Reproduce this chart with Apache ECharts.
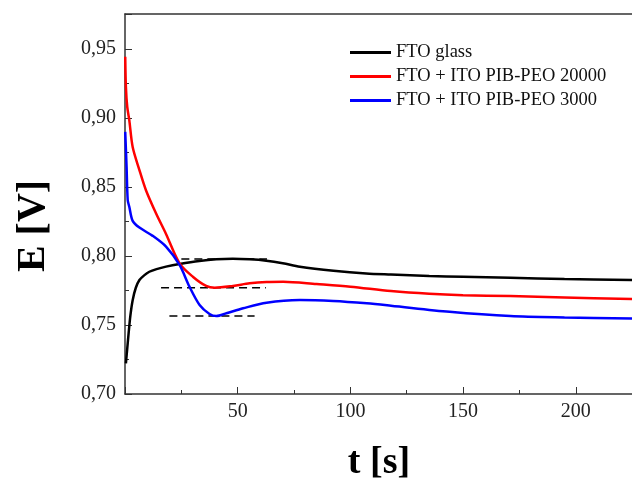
<!DOCTYPE html>
<html>
<head>
<meta charset="utf-8">
<script src="https://cdn.jsdelivr.net/npm/echarts@6/dist/echarts.min.js"></script>
<style>
  html, body { margin: 0; padding: 0; background: #fff; }
  #grafico { width: 632px; height: 481px; }
</style>
</head>
<body>
<div id="grafico"></div>
<script>
// Curvas de potencial E [V] em função do tempo t [s]
const nomesSeries = ['FTO glass', 'FTO + ITO PIB-PEO 20000', 'FTO + ITO PIB-PEO 3000'];
const coresSeries = ['#000000', '#ff0000', '#0000ff'];

const ftoT = [0.4, 1.0, 1.6, 2.4, 3.4, 4.8, 6.4, 8.5, 10.8, 14, 18.2, 24.2, 33, 40.5, 47.8, 55.3, 62.7, 70, 77.6, 92.5, 107, 118, 135, 150, 171, 195, 225];
const ftoE = [0.7222, 0.733, 0.744, 0.757, 0.768, 0.777, 0.7826, 0.786, 0.7886, 0.7905, 0.7923, 0.7942, 0.7964, 0.7976, 0.798, 0.7976, 0.7966, 0.7948, 0.7923, 0.7894, 0.7874, 0.7866, 0.7855, 0.7849, 0.7842, 0.7834, 0.7826];

const pib20T = [0.1, 0.4, 1.0, 1.9, 3.4, 6.4, 9.3, 13.8, 18.2, 24.2, 30.1, 36, 39.8, 47.9, 55.3, 62.8, 70.2, 85, 100, 118, 135, 150, 171, 195, 225];
const pib20E = [0.9444, 0.9227, 0.908, 0.8985, 0.879, 0.8623, 0.8477, 0.8308, 0.8160, 0.7947, 0.785, 0.7783, 0.777, 0.7783, 0.7802, 0.7812, 0.7814, 0.7797, 0.7778, 0.7746, 0.7726, 0.7716, 0.771, 0.770, 0.7688];

const pib3T = [0.1, 0.7, 1.2, 1.9, 3.4, 6.4, 12.3, 18.2, 24.2, 28.6, 33.1, 37.5, 40.5, 45, 52.4, 62.8, 77.6, 92.4, 107.3, 118, 144, 171, 195, 225];
const pib3E = [0.890, 0.8647, 0.8406, 0.8357, 0.8255, 0.8206, 0.8146, 0.8068, 0.7935, 0.7778, 0.7645, 0.758, 0.7565, 0.7585, 0.7621, 0.7662, 0.7681, 0.7674, 0.7657, 0.764, 0.7596, 0.7565, 0.7555, 0.7548];

// Linhas tracejadas de referência: [t inicial, t final, E]
const tracejadoT0 = [25, 16, 19.7];
const tracejadoT1 = [63, 62.5, 57.5];
const tracejadoE = [0.7978, 0.777, 0.7565];

const fonte = 'Liberation Serif, Times New Roman, serif';

function pares(t, e) {
    return t.map(function(v, i) { return [v, e[i]]; });
}

const chart = echarts.init(document.getElementById('grafico'));

const seriesCurvas = [pares(ftoT, ftoE), pares(pib20T, pib20E), pares(pib3T, pib3E)].map(function(dados, i) {
    return {
        name: nomesSeries[i],
        type: 'line',
        data: dados,
        smooth: 0.3,
        showSymbol: false,
        symbol: 'none',
        lineStyle: { color: coresSeries[i], width: 2.5 },
        itemStyle: { color: coresSeries[i] },
        z: 3
    };
});

const seriesTracejadas = tracejadoE.map(function(e, i) {
    return {
        name: 'ref' + i,
        type: 'line',
        data: [[tracejadoT0[i], e], [tracejadoT1[i], e]],
        showSymbol: false,
        symbol: 'none',
        lineStyle: { color: '#000', width: 1.5, type: [8, 5] },
        silent: true,
        z: 2
    };
});

const option = {
    backgroundColor: '#fff',
    animation: false,
    grid: { left: 125, right: -1, top: 14, bottom: 87, outerBoundsMode: 'none', containLabel: false },
    legend: {
        data: nomesSeries,
        orient: 'vertical',
        left: 345,
        top: 38,
        icon: 'rect',
        itemWidth: 41,
        itemHeight: 3,
        itemGap: 5,
        textStyle: { fontFamily: fonte, fontSize: 18.5, color: '#111' }
    },
    xAxis: [{
        type: 'value',
        min: 0,
        max: 225.4,
        interval: 50,
        name: 't [s]',
        nameLocation: 'middle',
        nameGap: 50,
        nameTextStyle: { fontFamily: fonte, fontSize: 38, fontWeight: 'bold', color: '#000' },
        axisLine: { lineStyle: { color: '#333', width: 1.5 } },
        axisTick: { inside: true, length: 7, lineStyle: { color: '#333' } },
        minorTick: { show: true, splitNumber: 2, length: 4, lineStyle: { color: '#333' } },
        splitLine: { show: false },
        axisLabel: {
            fontFamily: fonte, fontSize: 20, color: '#222', margin: 8,
            formatter: function(v) { return (v > 0 && v % 50 === 0) ? String(v) : ''; }
        }
    }, {
        type: 'value',
        position: 'top',
        min: 0,
        max: 225.4,
        axisLine: { show: true, onZero: false, lineStyle: { color: '#333', width: 1.5 } },
        axisTick: { show: false },
        axisLabel: { show: false },
        splitLine: { show: false }
    }],
    yAxis: {
        type: 'value',
        min: 0.70,
        max: 0.9754,
        interval: 0.05,
        name: 'E [V]',
        nameLocation: 'middle',
        nameGap: 71,
        nameTextStyle: { fontFamily: fonte, fontSize: 40, fontWeight: 'bold', color: '#000', padding: [0, 44, 0, 0] },
        axisLine: { show: true, lineStyle: { color: '#333', width: 1.5 } },
        axisTick: { inside: true, length: 7, lineStyle: { color: '#333' } },
        minorTick: { show: true, splitNumber: 2, length: 4, lineStyle: { color: '#333' } },
        splitLine: { show: false },
        axisLabel: {
            fontFamily: fonte, fontSize: 20, color: '#222', margin: 9,
            formatter: function(v) {
                const k = Math.round(v / 0.05);
                if (Math.abs(v - k * 0.05) > 1e-6) return '';
                return v.toFixed(2).replace('.', ',');
            }
        }
    },
    series: seriesCurvas.concat(seriesTracejadas)
};

chart.setOption(option);
</script>
</body>
</html>
